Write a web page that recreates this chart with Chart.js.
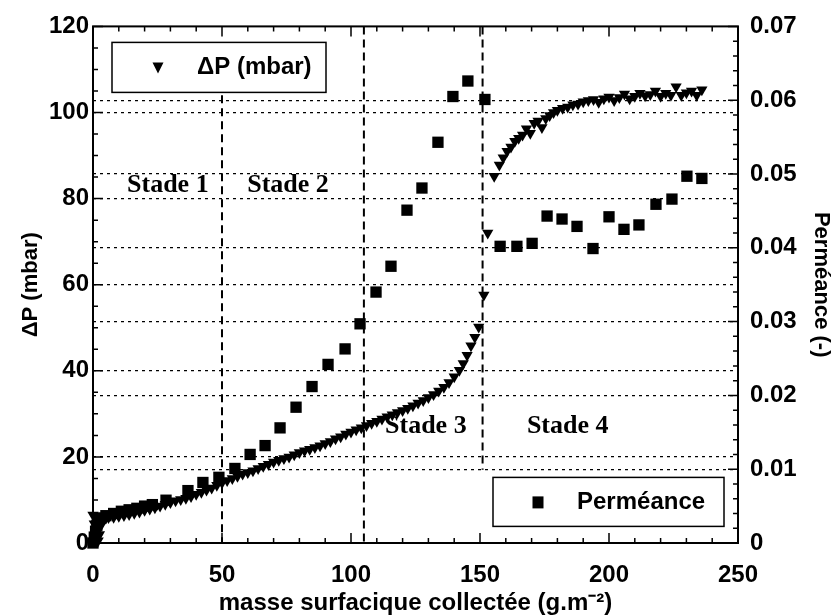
<!DOCTYPE html>
<html><head><meta charset="utf-8">
<script src="https://cdn.jsdelivr.net/npm/chart.js@4.4.0/dist/chart.umd.min.js"></script>
<style>html,body{margin:0;padding:0;background:#fff}</style>
</head><body>
<canvas id="c" width="838" height="615"></canvas>
<script>
// ---- data ----
const dpX = [0,0.5,1,1.5,2,2.5,3,3.5,4,5,6,8,10,12,14,16,18,20,22,24,26,28,30,32,34,36,38,40,42,44,46,48,50,52,54,56,58,60,62,64,66,68,70,72,74,76,78,80,82,84,86,88,90,92,94,96,98,100,102,104,106,108,110,112,114,116,118,120,122,124,126,128,130,132,134,136,138,140,142,143.5,145,146.5,148,149.5,151.5,153,155.5,157.5,159,160.5,162,163.5,165,166.5,168,169.5,171,172.5,174,175.5,177,178.5,180,182,184,186,188,190,192,194,196,198,200,202,204,206,208,210,212,214,216,218,220,222,224,226,228,230,232,234,236];
const dpY = [6.5,4.5,2.5,1,0.5,2,4,5.2,5.6,5.8,5.9,6.0,6.2,6.4,6.6,6.9,7.2,7.6,7.9,8.2,8.6,9.0,9.4,9.8,10.1,10.4,10.8,11.3,11.8,12.3,12.8,13.4,14.0,14.5,15.0,15.5,16.0,16.4,16.8,17.3,17.8,18.3,18.8,19.2,19.6,20.0,20.5,21.0,21.4,21.8,22.2,22.6,23.1,23.6,24.2,24.7,25.3,25.8,26.3,26.8,27.3,27.8,28.3,28.8,29.3,29.8,30.3,30.8,31.3,31.9,32.5,33.1,33.8,34.5,35.3,36.2,37.3,38.6,40.1,41.7,43.6,45.8,47.8,50.2,57.6,72,85.2,87.8,89.5,91,92,93.3,94.0,94.8,96.2,95.2,97.5,98.0,96.5,98.6,99.3,100,100.5,101,101.3,101.8,102,102.5,102.8,103,102.4,103.2,103.6,102.8,103.5,104.3,103.2,103.8,104.5,103.9,104.2,105,103.8,104.5,104,106,104,104.6,105,104,105.3];
const permX = [0,0.5,1,1.5,2,3,5,8,11,14,17,20,23,28.3,36.8,42.6,48.8,55,60.9,66.7,72.5,78.7,84.9,91.1,97.7,103.5,109.7,115.5,121.7,127.5,133.7,139.5,145.3,151.9,157.8,164.3,170.2,176,181.8,187.6,193.8,200,205.8,211.6,218.2,224.4,230.2,236];
const permY = [0,0.0008,0.0016,0.0024,0.003,0.0034,0.0037,0.004,0.0043,0.0045,0.0047,0.005,0.0052,0.0058,0.0071,0.0082,0.0089,0.0101,0.012,0.0132,0.0156,0.0184,0.0212,0.0242,0.0263,0.0297,0.034,0.0375,0.0451,0.0481,0.0543,0.0605,0.0626,0.0601,0.0402,0.0402,0.0406,0.0443,0.0439,0.0429,0.0399,0.0442,0.0425,0.0431,0.0459,0.0466,0.0497,0.0494];

const xTickValues = [0,50,100,150,200,250];
const xTickLabels = ['0','50','100','150','200','250'];
const leftTickValues = [0,20,40,60,80,100,120];
const leftTickLabels = ['0','20','40','60','80','100','120'];
const rightTickValues = [0,0.01,0.02,0.03,0.04,0.05,0.06,0.07];
const rightTickLabels = ['0','0.01','0.02','0.03','0.04','0.05','0.06','0.07'];

const stageNames = ['Stade 1','Stade 2','Stade 3','Stade 4'];
const stageX = [29,75.6,129,184];
const stageY = [83,83,27.2,27.2];
const boundaryX = [50,105,151];
const boundaryTop = [104,120,120];
const boundaryBottom = [0,0,17];

const legendLabels = ['ΔP (mbar)','Perméance'];
const xTitle = 'masse surfacique collectée (g.m⁻²)';
const leftTitle = 'ΔP (mbar)';
const rightTitle = 'Perméance (-)';

// ---- rendering ----
const SANS = '"Liberation Sans", Arial, Helvetica, sans-serif';
const SERIF = '"Liberation Serif", "Times New Roman", serif';
const tickFont = {family: SANS, size: 24, weight: 'bold'};
const titleFont = {family: SANS, size: 24, weight: 'bold', lineHeight: 1};

function gridColor(max){
  return ctx => (ctx.tick && (Math.abs(ctx.tick.value) < 1e-9 || Math.abs(ctx.tick.value - max) < 1e-9)) ? 'rgba(0,0,0,0)' : '#000';
}

const decorPlugin = {
  id: 'decor',
  beforeDatasetsDraw(chart) {
    const {ctx, scales} = chart;
    ctx.save();
    ctx.strokeStyle = '#000';
    ctx.lineWidth = 2;
    ctx.setLineDash([8,5]);
    boundaryX.forEach((v,i) => {
      const px = scales.x.getPixelForValue(v);
      ctx.beginPath();
      ctx.moveTo(px, scales.y.getPixelForValue(boundaryTop[i]));
      ctx.lineTo(px, scales.y.getPixelForValue(boundaryBottom[i]));
      ctx.stroke();
    });
    ctx.setLineDash([]);
    ctx.fillStyle = '#000';
    ctx.font = 'bold 26px ' + SERIF;
    ctx.textAlign = 'center';
    ctx.textBaseline = 'middle';
    stageNames.forEach((s,i) => {
      ctx.fillText(s, scales.x.getPixelForValue(stageX[i]), scales.y.getPixelForValue(stageY[i]));
    });
    ctx.restore();
  },
  afterDraw(chart) {
    const {ctx, chartArea: a, scales} = chart;
    ctx.save();
    ctx.strokeStyle = '#000';
    ctx.lineWidth = 2;
    ctx.strokeRect(a.left, a.top, a.right - a.left, a.bottom - a.top);
    ctx.lineWidth = 1.5;
    ctx.beginPath();
    for (let v = 0; v <= 250; v += 10) {
      const px = scales.x.getPixelForValue(v);
      const len = (v % 50 === 0) ? 10 : 5;
      ctx.moveTo(px, a.bottom); ctx.lineTo(px, a.bottom - len);
      ctx.moveTo(px, a.top); ctx.lineTo(px, a.top + len);
    }
    for (let v = 0; v <= 120; v += 5) {
      const py = scales.y.getPixelForValue(v);
      const len = (v % 20 === 0) ? 10 : 5;
      ctx.moveTo(a.left, py); ctx.lineTo(a.left + len, py);
    }
    for (let k = 0; k <= 35; k++) {
      const py = scales.y2.getPixelForValue(k * 0.002);
      const len = (k % 5 === 0) ? 10 : 5;
      ctx.moveTo(a.right, py); ctx.lineTo(a.right - len, py);
    }
    ctx.stroke();

    ctx.lineWidth = 1.5;
    const L1 = {x: a.left + 19, y: a.top + 16, w: 214, h: 50};
    const L2 = {x: a.left + 400, y: a.top + 451, w: 231, h: 49};
    [L1, L2].forEach(b => {
      ctx.fillStyle = '#fff';
      ctx.fillRect(b.x, b.y, b.w, b.h);
      ctx.strokeRect(b.x, b.y, b.w, b.h);
    });
    ctx.fillStyle = '#000';
    const tx = L1.x + 46, ty = L1.y + 25;
    ctx.beginPath();
    ctx.moveTo(tx - 5.5, ty - 5); ctx.lineTo(tx + 5.5, ty - 5); ctx.lineTo(tx, ty + 6); ctx.closePath(); ctx.fill();
    const sx = L2.x + 45, sy = L2.y + 25;
    ctx.fillRect(sx - 5.5, sy - 6, 11, 12);
    ctx.font = 'bold 24px ' + SANS;
    ctx.textAlign = 'left';
    ctx.textBaseline = 'middle';
    ctx.fillText(legendLabels[0], L1.x + 85, L1.y + 25);
    ctx.fillText(legendLabels[1], L2.x + 84, L2.y + 25);
    ctx.restore();
  }
};

new Chart(document.getElementById('c'), {
  type: 'scatter',
  data: {
    datasets: [
      {
        label: legendLabels[0],
        data: dpX.map((x,i) => ({x, y: dpY[i]})),
        yAxisID: 'y',
        pointStyle: 'triangle', rotation: 180, pointRadius: 6.5,
        backgroundColor: '#000', borderColor: '#000', borderWidth: 0,
        clip: false
      },
      {
        label: legendLabels[1],
        data: permX.map((x,i) => ({x, y: permY[i]})),
        yAxisID: 'y2',
        pointStyle: 'rect', pointRadius: 8,
        backgroundColor: '#000', borderColor: '#000', borderWidth: 0,
        clip: false
      }
    ]
  },
  options: {
    responsive: false,
    animation: false,
    devicePixelRatio: 1,
    layout: {padding: {top: 22, left: 0, right: 0, bottom: 0}},
    plugins: {legend: {display: false}, tooltip: {enabled: false}},
    scales: {
      x: {
        type: 'linear', position: 'bottom', min: 0, max: 250,
        afterFit: s => { s.height = 72; },
        afterBuildTicks: s => { s.ticks = xTickValues.map(v => ({value: v})); },
        ticks: {font: tickFont, color: '#000', padding: 18, maxRotation: 0,
                callback: (v, i) => xTickLabels[i]},
        grid: {display: false, drawTicks: false},
        border: {display: false},
        title: {display: true, text: xTitle, font: titleFont, color: '#000', padding: {top: 0, bottom: 0}}
      },
      y: {
        type: 'linear', position: 'left', min: 0, max: 120,
        afterFit: s => { s.width = 93; },
        afterBuildTicks: s => { s.ticks = leftTickValues.map(v => ({value: v})); },
        ticks: {font: tickFont, color: '#000', padding: 4,
                callback: (v, i) => leftTickLabels[i]},
        grid: {drawTicks: false, color: gridColor(120), lineWidth: 1.2},
        border: {display: false, dash: [3,4]},
        title: {display: true, text: leftTitle, font: {family: SANS, size: 22, weight: 'bold'}, color: '#000', padding: {top: 18, bottom: 0}}
      },
      y2: {
        type: 'linear', position: 'right', min: 0, max: 0.07,
        afterFit: s => { s.width = 100; },
        afterBuildTicks: s => { s.ticks = rightTickValues.map(v => ({value: v})); },
        ticks: {font: tickFont, color: '#000', padding: 12,
                callback: (v, i) => rightTickLabels[i]},
        grid: {drawTicks: false, color: gridColor(0.07), lineWidth: 1.2},
        border: {display: false, dash: [3,4]},
        title: {display: true, text: rightTitle, font: {family: SANS, size: 22, weight: 'bold'}, color: '#000', padding: {top: 4, bottom: 0}}
      }
    }
  },
  plugins: [decorPlugin]
});
</script>
</body></html>
